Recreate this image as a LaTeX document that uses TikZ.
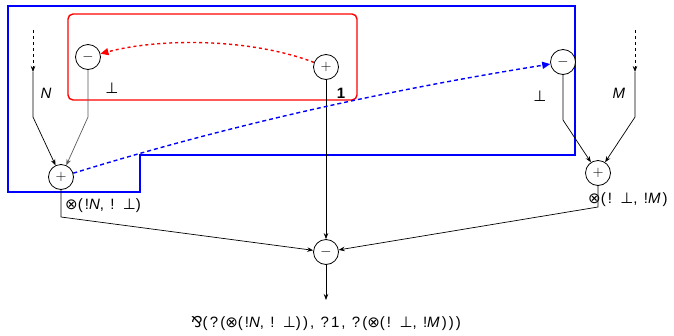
\documentclass[tikz,border=0pt]{standalone}
\usepackage{fontspec}
\setmainfont{Liberation Sans}
\newfontfamily\lblfont[LetterSpace=14]{Liberation Sans}
\newfontfamily\symfont[LetterSpace=14]{DejaVu Sans}
\usetikzlibrary{arrows.meta}
\newcommand{\tens}{{\symfont ⊗}}
\newcommand{\bott}{{\symfont ⊥}}
\newcommand{\parrsym}{{\symfont ⅋}}
\begin{document}
\begin{tikzpicture}[x=1pt,y=-1pt,
  link/.style={circle,draw,line width=0.8pt,minimum size=25pt,inner sep=0pt,font=\fontsize{14}{14}\selectfont},
  wire/.style={line width=0.7pt},
  arr/.style={wire,-{Stealth[length=6pt,width=4.5pt]}},
  lbl/.style={font=\fontsize{15}{17}\selectfont\lblfont,inner sep=0pt},
  redbox/.style={draw=red,line width=1.4pt,rounded corners=5pt},
  bluebox/.style={draw=blue,line width=1.4pt}]
\useasboundingbox (0,0) rectangle (674,335);
% boxes
\draw[bluebox] (8,6) -- (575,6) -- (575,155) -- (140,155) -- (140,192) -- (8,192) -- cycle;
\draw[redbox] (68,14) rectangle (357,100);
% nodes
\node[link,fill=white] (mL) at (88,57) {$-$};
\node[link,fill=white] (pC) at (326,67) {$+$};
\node[link,fill=white] (pN) at (61,177) {$+$};
\node[link,fill=white] (mR) at (563,62) {$-$};
\node[link,fill=white] (pR) at (598,173) {$+$};
\node[link,fill=white] (mB) at (326,252) {$-$};
% coordinates
\coordinate (nTop) at (33,30);
\coordinate (nMid) at (33,72);
\coordinate (nBend) at (33,117);
\coordinate (mTop) at (635,30);
\coordinate (mMid) at (635,72);
\coordinate (mBend) at (635,117);
\coordinate (lBend) at (88,117);
\coordinate (rBend) at (563,120);
\coordinate (pNb) at (61,217);
\coordinate (pRb) at (598,207);
\coordinate (out) at (326,300);
% wires
\draw[arr,dashed] (nTop) -- (nMid);
\draw[arr] (nMid) -- (nBend) -- (pN);
\draw[arr,dashed] (mTop) -- (mMid);
\draw[arr] (mMid) -- (mBend) -- (pR);
\draw[arr,draw=black!65] (mL) -- (lBend) -- (pN);
\draw[arr] (mR) -- (rBend) -- (pR);
\draw[arr] (pC) -- (mB);
\draw[arr] (pN) -- (pNb) -- (mB);
\draw[arr] (pR) -- (pRb) -- (mB);
\draw[arr] (mB) -- (out);
% dotted connections
\draw[red,line width=1.4pt,dash pattern=on 3pt off 3pt,-{Triangle[length=8pt,width=7pt]}]
  (pC) .. controls (250,38) and (160,38) .. (mL);
\draw[blue,line width=1.4pt,dash pattern=on 4pt off 3pt,-{Triangle[length=8pt,width=7pt]}]
  (pN) .. controls (229,125) and (388,90) .. (mR);
% labels
\node[lbl] (lN) at (47,93) {\textit{N}};
\node[lbl] (lbotL) at (112,88) {\bott};
\node[lbl] (lone) at (342,93) {\textbf{1}};
\node[lbl] (lbotR) at (540,96) {\bott};
\node[lbl] (lM) at (620,93) {\textit{M}};
\node[lbl,anchor=west] (lpN) at (65,206) {\tens(!\textit{N}, ! \bott)};
\node[lbl,anchor=west] (lpR) at (588,200) {\tens(! \bott, !\textit{M})};
\node[lbl] (lout) at (326,323) {\parrsym(?(\tens(!\textit{N}, ! \bott)), ?1, ?(\tens(! \bott, !\textit{M})))};
\end{tikzpicture}
\end{document}
